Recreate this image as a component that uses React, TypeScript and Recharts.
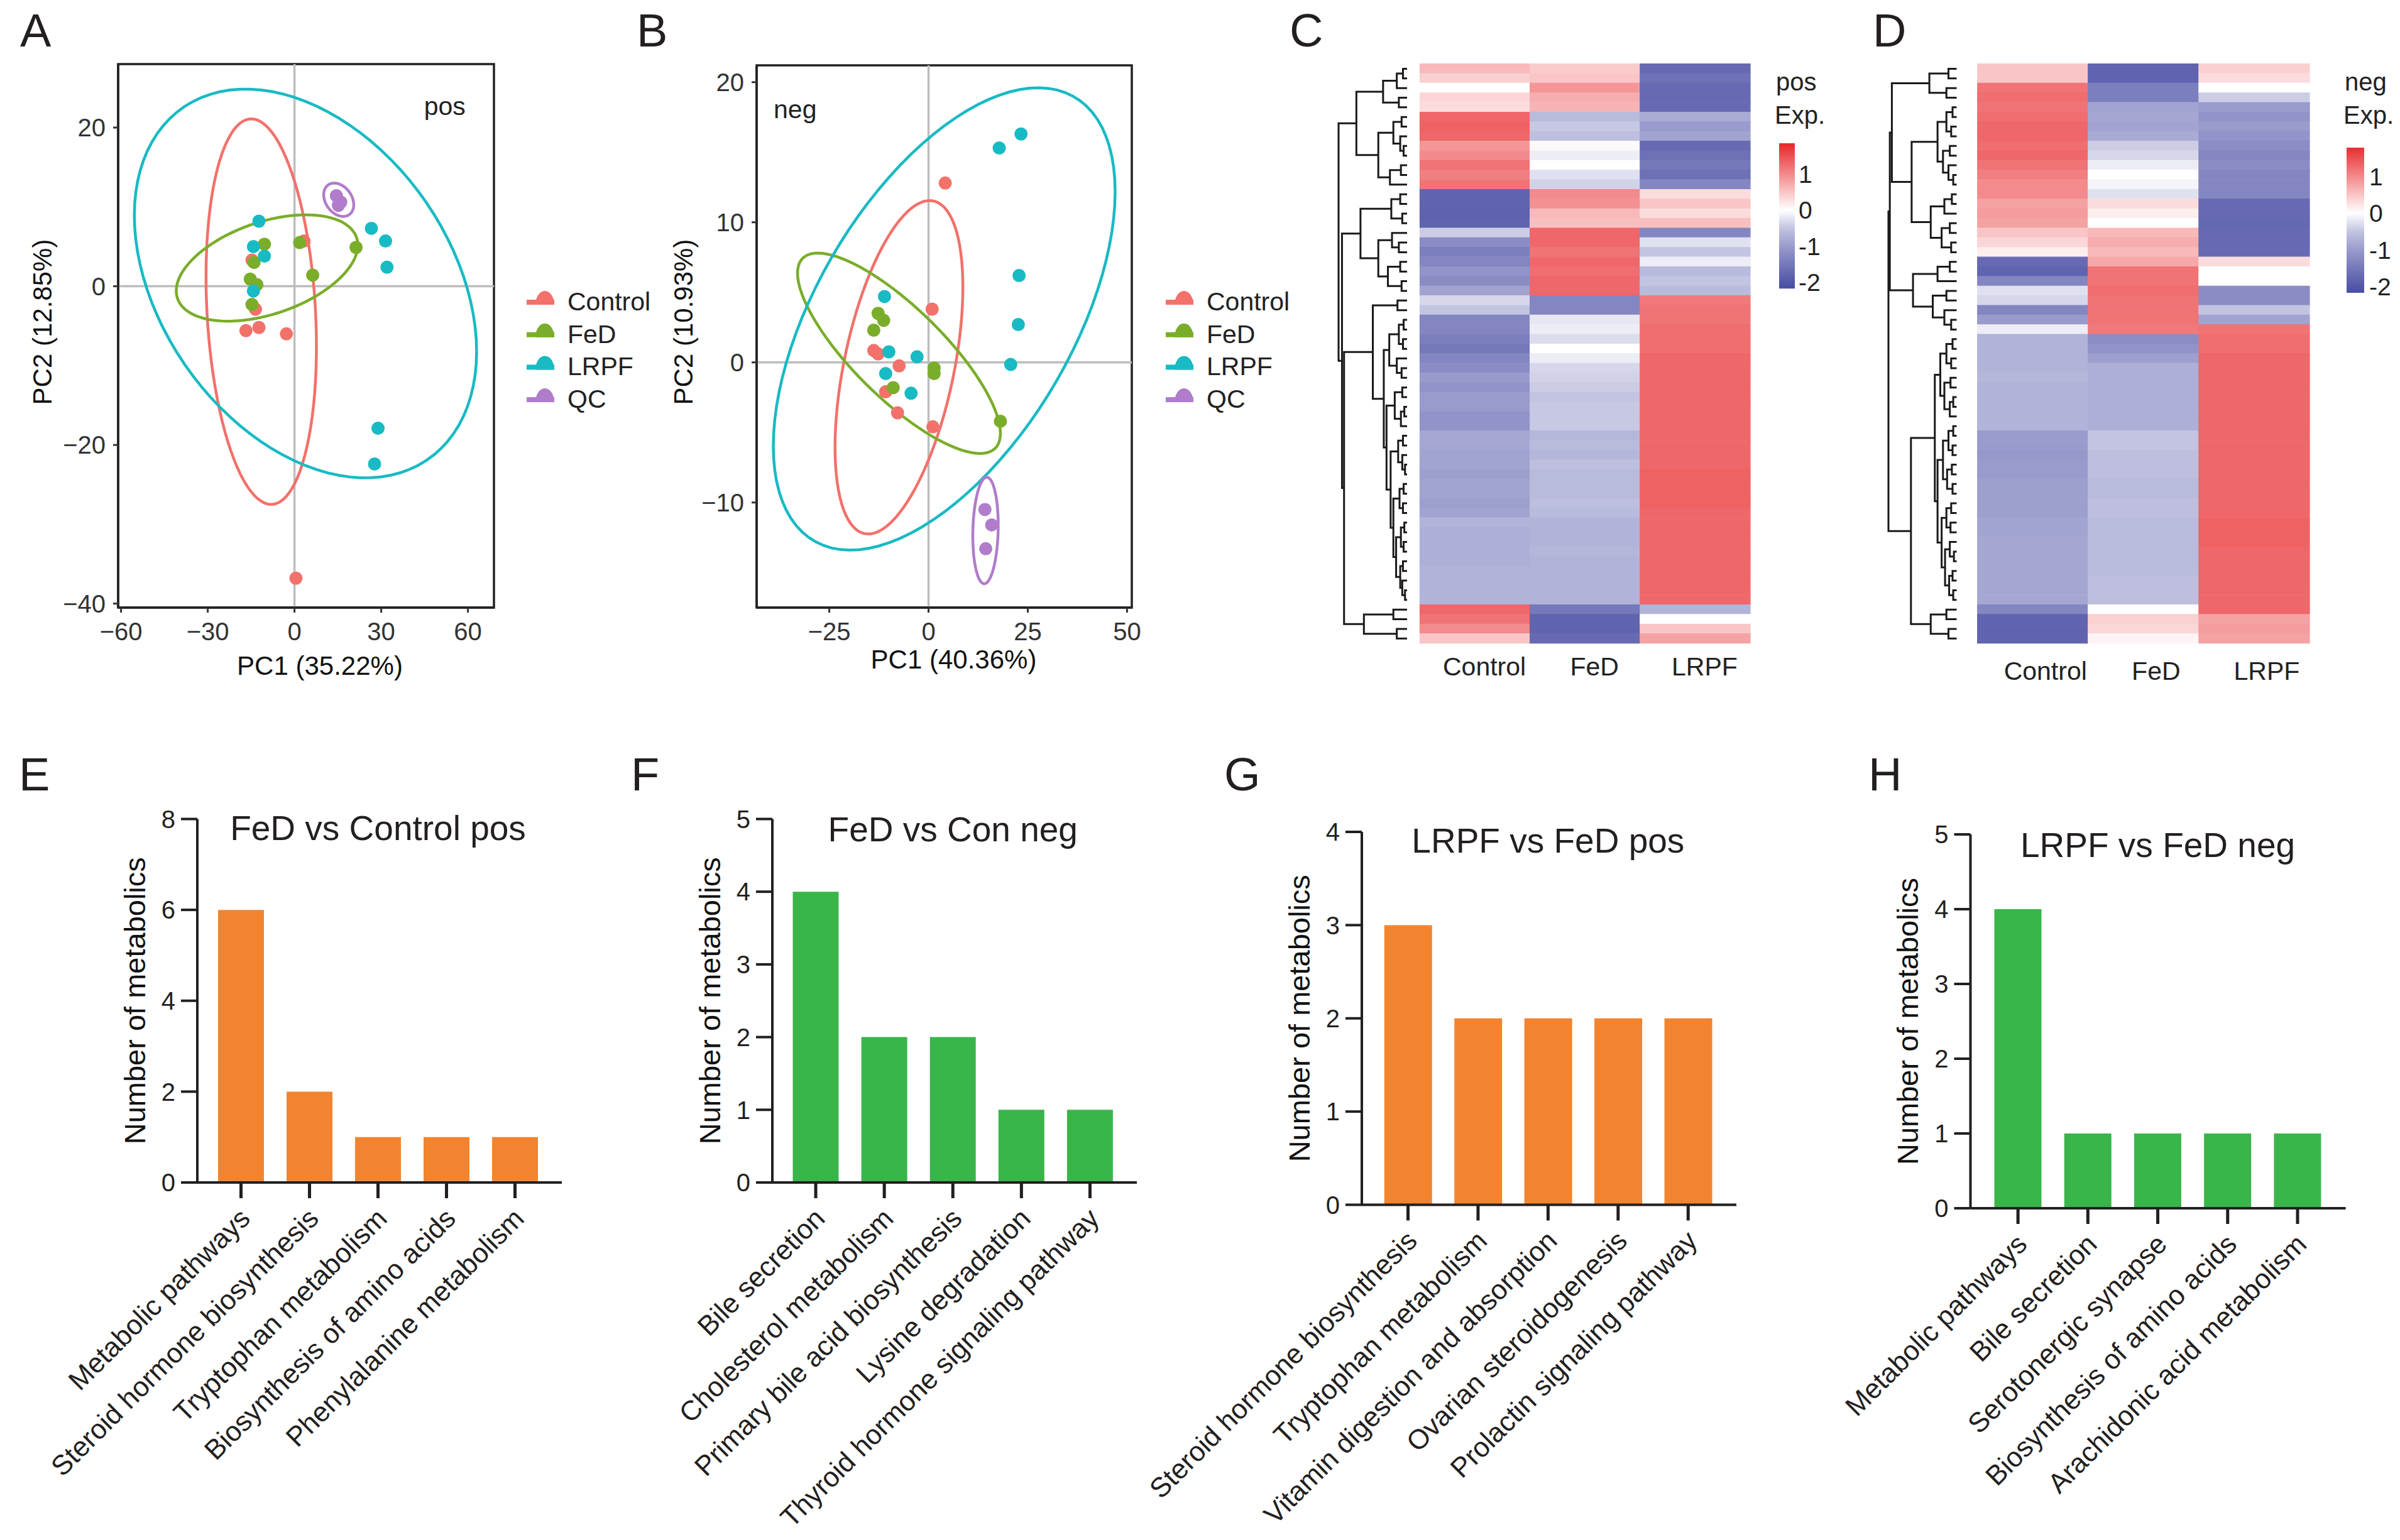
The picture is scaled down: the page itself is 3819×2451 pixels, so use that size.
import React from 'react';
import {
  ScatterChart, Scatter, XAxis, YAxis, ReferenceLine, ReferenceArea, ReferenceDot, Legend,
  BarChart, Bar, Cell, LineChart, Line,
} from 'recharts';

const FONT = '"Liberation Sans", Arial, Helvetica, sans-serif';
const INK = '#231f20';

// ---------------- PCA score plots (A: pos, B: neg) ----------------
const groupNames = ['Control', 'FeD', 'LRPF', 'QC'];
const groupColors = ['#F2716B', '#7AAD2A', '#18BAC3', '#B07CCB'];

const posControl = [[3.3, 5.7], [-14.7, 3.3], [-13.5, -2.9], [-16.8, -5.6], [-12.3, -5.2], [-2.8, -6.0], [0.5, -36.8]];
const posFeD = [[-10.4, 5.3], [1.8, 5.5], [21.3, 4.9], [6.3, 1.4], [-15.3, 0.9], [-13.0, 0.2], [-14.7, -2.3], [-14.0, 3.0]];
const posLRPF = [[-12.3, 8.2], [-14.2, 5.0], [-10.4, 3.8], [-14.2, -0.6], [26.6, 7.3], [31.5, 5.7], [32.0, 2.4], [28.9, -17.9], [27.7, -22.4]];
const posQC = [[14.5, 11.4], [16.0, 10.6], [15.2, 10.2]];

const negControl = [[4.2, 12.8], [0.9, 3.8], [-13.8, 0.85], [-12.7, 0.6], [-7.4, -0.25], [-10.8, -2.1], [-7.8, -3.6], [1.1, -4.6]];
const negFeD = [[-12.7, 3.5], [-11.3, 3.0], [-13.8, 2.3], [1.4, -0.4], [1.4, -0.8], [-8.9, -1.8], [18.1, -4.2]];
const negLRPF = [[-11.1, 4.7], [-10.0, 0.75], [-2.9, 0.4], [-10.8, -0.8], [-4.4, -2.2], [17.8, 15.3], [23.3, 16.3], [22.8, 6.2], [22.6, 2.7], [20.7, -0.15]];
const negQC = [[14.2, -10.5], [15.9, -11.6], [14.4, -13.3]];

// confidence ellipses: [centre x, centre y, half-width, half-height, y-offset of rightmost point / half-height]
const posEllipses = [[-11.5, -3.2, 19.1, 24.3, -0.18], [-9.5, 2.3, 31.4, 6.7, 0.43], [3.8, 0.35, 59.2, 24.5, -0.35], [15.3, 10.9, 5.2, 2.1, -0.3]];
const negEllipses = [[-7.45, -0.35, 16.1, 11.9, 0.48], [-7.45, 0.65, 25.55, 7.15, -0.8], [3.95, 3.1, 43.05, 16.5, 0.55], [14.35, -12.0, 3.2, 3.8, 0.1]];

const posXTicks = [-60, -30, 0, 30, 60];
const posYTicks = [-40, -20, 0, 20];
const negXTicks = [-25, 0, 25, 50];
const negYTicks = [-10, 0, 10, 20];

// ---------------- Heatmaps (C: pos, D: neg) ----------------
const heatCols = ['Control', 'FeD', 'LRPF'];

const posHeatControl = [0.6, 0.4, 0.0, 0.35, 0.3, 1.3, 1.35, 1.3, 0.9, 1.0, 1.2, 1.1, 1.2, -1.8, -1.8, -1.85, -1.8, -0.4, -1.2, -1.4,
  -1.3, -1.1, -1.2, -0.9, -0.3, -0.5, -1.3, -1.3, -1.4, -1.5, -1.3, -1.2, -1.0, -1.1, -1.0, -1.0, -1.1, -1.1, -0.85, -0.85,
  -0.9, -0.9, -0.95, -0.9, -0.9, -0.95, -0.9, -0.7, -0.75, -0.75, -0.75, -0.75, -0.7, -0.7, -0.7, -0.7, 1.3, 1.2, 1.0, 0.5];
const posHeatFeD = [0.45, 0.5, 0.9, 0.7, 0.65, -0.6, -0.45, -0.55, 0.05, -0.1, 0.0, -0.2, -0.35, 1.0, 0.95, 0.6, 0.55, 1.3, 1.3, 1.2,
  1.3, 1.25, 1.3, 1.3, -1.3, -1.3, -0.15, -0.1, -0.25, 0.0, -0.1, -0.3, -0.35, -0.4, -0.5, -0.45, -0.45, -0.45, -0.65, -0.6,
  -0.65, -0.55, -0.6, -0.6, -0.6, -0.55, -0.6, -0.7, -0.7, -0.7, -0.65, -0.7, -0.7, -0.7, -0.7, -0.7, -1.5, -1.8, -1.8, -1.7];
const posHeatLRPF = [-1.7, -1.6, -1.7, -1.7, -1.7, -0.8, -1.0, -0.9, -1.7, -1.6, -1.5, -1.6, -1.3, 0.3, 0.5, 0.3, 0.55, -1.3, -0.2, -0.5,
  -0.1, -0.6, -0.5, -0.6, 1.15, 1.2, 1.2, 1.25, 1.25, 1.25, 1.3, 1.3, 1.3, 1.3, 1.3, 1.3, 1.3, 1.3, 1.3, 1.3,
  1.3, 1.3, 1.35, 1.35, 1.35, 1.35, 1.3, 1.3, 1.3, 1.3, 1.3, 1.3, 1.3, 1.3, 1.3, 1.3, -0.7, 0.0, 0.5, 0.8];

const negHeatControl = [0.5, 0.5, 1.2, 1.25, 1.2, 1.25, 1.3, 1.3, 1.25, 1.3, 1.2, 1.1, 1.0, 1.0, 0.8, 0.85, 0.8, 0.5, 0.35, 0.15,
  -1.7, -1.8, -1.3, -0.2, -0.3, -1.3, -1.0, -0.1, -0.7, -0.7, -0.7, -0.7, -0.65, -0.7, -0.7, -0.7, -0.7, -0.7, -1.0, -1.0,
  -1.05, -1.0, -1.0, -0.95, -0.95, -0.95, -0.95, -0.9, -0.9, -0.85, -0.85, -0.85, -0.85, -0.85, -0.85, -0.85, -1.3, -1.8, -1.8, -1.8];
const negHeatFeD = [-1.8, -1.8, -1.4, -1.4, -0.9, -0.85, -0.9, -0.8, -0.4, -0.3, -0.1, 0.0, -0.05, -0.2, 0.3, 0.15, 0.0, 0.6, 0.7, 0.6,
  0.75, 1.2, 1.2, 1.25, 1.2, 1.2, 1.2, 1.15, -1.2, -1.1, -0.95, -0.75, -0.75, -0.75, -0.75, -0.75, -0.75, -0.75, -0.5, -0.5,
  -0.55, -0.55, -0.55, -0.6, -0.6, -0.55, -0.55, -0.6, -0.6, -0.6, -0.6, -0.6, -0.6, -0.55, -0.55, -0.55, 0.0, 0.4, 0.35, 0.1];
const negHeatLRPF = [0.4, 0.3, 0.0, -0.4, -1.0, -1.1, -1.0, -1.1, -1.2, -1.3, -1.2, -1.3, -1.3, -1.3, -1.7, -1.7, -1.75, -1.7, -1.7, -1.7,
  0.3, 0.0, 0.0, -1.2, -1.2, -0.5, -0.9, 1.2, 1.25, 1.25, 1.3, 1.3, 1.3, 1.3, 1.3, 1.3, 1.3, 1.3, 1.3, 1.3,
  1.3, 1.3, 1.3, 1.3, 1.3, 1.3, 1.3, 1.35, 1.35, 1.35, 1.3, 1.3, 1.3, 1.3, 1.3, 1.3, 1.3, 0.8, 0.85, 0.8];

// dendrograms: node = [merge height, left, right], leaf = row index
const posTree = [10,
  [7.4, [3.5, [1.5, [0.6, 0, 1], 2], [1.2, 3, 4]], [4.2, [2.0, [0.8, 5, 6], [1.0, 7, [0.5, 8, 9]]], [2.5, [0.9, 10, 11], 12]]],
  [9.5,
    [6.8, [2.3, [1.0, 13, 14], [0.7, 15, 16]], [4.2, [2.2, 17, [1.2, 18, 19]], [2.8, [1.0, 20, 21], [0.8, 22, 23]]]],
    [9.2,
      [5.0, [1.4, 24, 25],
        [3.4, [2.6, [1.2, [0.5, 26, 27], [0.6, 28, 29]], [1.5, 30, [0.8, 31, 32]]],
          [3.0, [1.8, [0.7, 33, 34], [0.9, [0.4, 35, 36], 37]],
            [2.4, [1.3, [0.6, 38, 39], [0.7, 40, [0.3, 41, 42]]],
              [2.0, [1.1, [0.5, 43, 44], [0.6, 45, 46]],
                [1.6, [0.9, [0.4, 47, 48], [0.5, 49, 50]], [1.0, [0.6, 51, 52], [0.7, 53, [0.3, 54, 55]]]]]]]]],
      [6.3, [2.0, 56, 57], [1.5, 58, 59]]]]];

const negTree = [10,
  [9.8,
    [9.5, [4.0, [1.2, 0, 1], [1.5, 2, 3]],
      [6.6, [2.8, [1.5, [0.6, 4, 5], [0.8, 6, 7]], [2.0, [1.0, 8, 9], [1.2, 10, [0.5, 11, 12]]]],
        [3.8, [1.8, [0.7, 13, 14], 15], [2.2, [1.0, 16, 17], [0.8, 18, 19]]]]],
    [6.4, [2.8, [1.0, 20, 21], 22], [3.5, [1.5, 23, 24], [1.8, 25, [0.8, 26, 27]]]]],
  [6.7,
    [3.2, [2.4, [1.5, [0.6, 28, 29], [0.8, 30, 31]], [1.8, [0.9, 32, 33], [1.0, [0.5, 34, 35], 36]]],
      [2.8, [2.0, [1.2, [0.5, 37, 38], [0.6, 39, 40]], [1.4, [0.7, 41, 42], [0.6, 43, 44]]],
        [2.2, [1.5, [0.8, 45, 46], [0.9, 47, 48]], [1.7, [1.0, 49, [0.4, 50, 51]], [1.1, [0.6, 52, 53], [0.5, 54, 55]]]]]],
    [3.8, [1.5, 56, 57], [1.2, 58, 59]]]];

// ---------------- KEGG pathway bars (E–H) ----------------
const catE = ['Metabolic pathways', 'Steroid hormone biosynthesis', 'Tryptophan metabolism', 'Biosynthesis of amino acids', 'Phenylalanine metabolism'];
const valE = [6, 2, 1, 1, 1];
const ticksE = [0, 2, 4, 6, 8];
const catF = ['Bile secretion', 'Cholesterol metabolism', 'Primary bile acid biosynthesis', 'Lysine degradation', 'Thyroid hormone signaling pathway'];
const valF = [4, 2, 2, 1, 1];
const ticksF = [0, 1, 2, 3, 4, 5];
const catG = ['Steroid hormone biosynthesis', 'Tryptophan metabolism', 'Vitamin digestion and absorption', 'Ovarian steroidogenesis', 'Prolactin signaling pathway'];
const valG = [3, 2, 2, 2, 2];
const ticksG = [0, 1, 2, 3, 4];
const catH = ['Metabolic pathways', 'Bile secretion', 'Serotonergic synapse', 'Biosynthesis of amino acids', 'Arachidonic acid metabolism'];
const valH = [4, 1, 1, 1, 1];
const ticksH = [0, 1, 2, 3, 4, 5];

const ORANGE = '#F2842F';
const GREEN = '#39B54A';

// ---------------- helpers ----------------
const minusFmt = (v: number) => (v < 0 ? '\u2212' + Math.abs(v) : String(v));
const toPts = (arr: number[][]) => arr.map(([x, y]) => ({ x, y }));

function ellipsePoints(e: number[]) {
  const [cx, cy, rx, ry, k] = e;
  const d = Math.acos(k);
  const pts: { x: number; y: number }[] = [];
  for (let i = 0; i <= 96; i++) {
    const t = (i / 96) * 2 * Math.PI;
    pts.push({ x: cx + rx * Math.cos(t), y: cy + ry * Math.cos(t - d) });
  }
  return pts;
}

function dendroPoints(tree: any) {
  const pts: { x: number; y: number | null }[] = [];
  const walk = (node: any): { y: number; h: number } => {
    if (typeof node === 'number') return { y: node + 0.5, h: 0 };
    const [h, l, r] = node;
    const a = walk(l);
    const b = walk(r);
    pts.push({ x: a.h, y: a.y }, { x: h, y: a.y }, { x: h, y: b.y }, { x: b.h, y: b.y }, { x: b.h, y: null });
    return { y: (a.y + b.y) / 2, h };
  };
  walk(tree);
  return pts;
}

const RED = [232, 38, 42];
const BLUE = [72, 76, 163];
const HEAT_MAX = 1.86;
const HEAT_MIN = -2.18;
function heatColor(v: number) {
  const t = v >= 0 ? Math.min(v / HEAT_MAX, 1) : Math.pow(Math.min(-v / -HEAT_MIN, 1), 0.75);
  const c = v >= 0 ? RED : BLUE;
  const m = (a: number) => Math.round(255 + (a - 255) * t);
  return `rgb(${m(c[0])},${m(c[1])},${m(c[2])})`;
}

function xTitle(text: string, dx: number, dy: number, fontSize: number) {
  return {
    content: (props: any) => {
      const vb = props.viewBox || { x: 0, y: 0, width: 0, height: 0 };
      const cx = vb.x + vb.width / 2 + dx;
      const cy = vb.y + dy;
      return (
        <text x={cx} y={cy} textAnchor="middle" dominantBaseline="central" fontSize={fontSize} fill="#111" fontFamily={FONT}>
          {text}
        </text>
      );
    },
  };
}

function yTitle(text: string, dx: number, dy: number, fontSize: number) {
  return {
    content: (props: any) => {
      const vb = props.viewBox || { x: 0, y: 0, width: 0, height: 0 };
      const cx = vb.x + vb.width + dx;
      const cy = vb.y + vb.height / 2 + dy;
      return (
        <text x={cx} y={cy} transform={`rotate(-90 ${cx} ${cy})`} textAnchor="middle" dominantBaseline="central"
          fontSize={fontSize} fill="#111" fontFamily={FONT}>
          {text}
        </text>
      );
    },
  };
}

// ---------------- PCA panel ----------------
function PcaPanel(p: any) {
  const groups = [p.control, p.fed, p.lrpf, p.qc];
  return (
    <ScatterChart width={1100} height={1100} margin={p.margin}>
      <XAxis type="number" dataKey="x" domain={p.xDomain} ticks={p.xTicks} allowDataOverflow height={100}
        tickSize={8} tickMargin={16} tickFormatter={minusFmt}
        tick={{ fontSize: 40, fill: '#333', fontFamily: FONT }}
        axisLine={{ stroke: '#222', strokeWidth: 3.5 }} tickLine={{ stroke: '#333', strokeWidth: 3 }}
        label={xTitle(p.xTitle, p.xTitleDx, p.xTitleDy, 42)} />
      <YAxis type="number" dataKey="y" domain={p.yDomain} ticks={p.yTicks} allowDataOverflow width={120}
        tickSize={8} tickMargin={12} tickFormatter={minusFmt}
        tick={{ fontSize: 40, fill: '#333', fontFamily: FONT }}
        axisLine={{ stroke: '#222', strokeWidth: 3.5 }} tickLine={{ stroke: '#333', strokeWidth: 3 }}
        label={yTitle(p.yTitle, p.yTitleDx, p.yTitleDy, 42)} />
      <ReferenceLine x={0} stroke="#bdbdbd" strokeWidth={3.5} />
      <ReferenceLine y={0} stroke="#bdbdbd" strokeWidth={3.5} />
      {p.ellipses.map((e: number[], i: number) => (
        <Scatter key={'e' + i} data={ellipsePoints(e)} line={{ stroke: groupColors[i], strokeWidth: 4.5 }}
          shape={() => <g />} legendType="none" isAnimationActive={false} />
      ))}
      {groups.map((g: number[][], i: number) => (
        <Scatter key={'g' + i} name={groupNames[i]} data={toPts(g)} fill={groupColors[i]} isAnimationActive={false}
          shape={(sp: any) => <circle cx={sp.cx} cy={sp.cy} r={10.5} fill={groupColors[i]} />} />
      ))}
      <ReferenceArea x1={p.xDomain[0]} x2={p.xDomain[1]} y1={p.yDomain[0]} y2={p.yDomain[1]}
        fill="none" fillOpacity={0} stroke="#222" strokeWidth={3.5} ifOverflow="visible" />
      <ReferenceDot x={p.tagAt[0]} y={p.tagAt[1]} r={0} ifOverflow="visible"
        label={{ value: p.tag, position: 'center', fontSize: 41, fill: '#222', fontFamily: FONT }} />
      <Legend layout="vertical" align="center" verticalAlign="middle"
        wrapperStyle={{ left: p.legendLeft, top: 440, width: 260, height: 230 }}
        content={() => (
          <svg width={260} height={230}>
            {groupNames.map((n, i) => {
              const base = 45 + i * 51.7;
              return (
                <g key={n}>
                  <rect x={8} y={base - 8} width={44} height={8} fill={groupColors[i]} />
                  <path d={`M ${22} ${base} A 15 22 0 0 1 ${52} ${base} Z`} fill={groupColors[i]} />
                  <text x={73} y={base - 5} dominantBaseline="central" fontSize={41} fill="#222" fontFamily={FONT}>{n}</text>
                </g>
              );
            })}
          </svg>
        )} />
    </ScatterChart>
  );
}

// ---------------- heatmap pieces ----------------
function Dendrogram(p: any) {
  return (
    <LineChart width={p.width} height={1100} data={dendroPoints(p.tree)} margin={p.margin}>
      <XAxis type="number" dataKey="x" domain={[0, 10]} reversed hide />
      <YAxis type="number" domain={[0, 60]} reversed hide />
      <Line dataKey="y" stroke="#1a1a1a" strokeWidth={3} dot={false} isAnimationActive={false} connectNulls={false} />
    </LineChart>
  );
}

function Heatmap(p: any) {
  const data = p.ctrl.map((c: number, i: number) => ({ row: i, ctrl: c, fed: p.fed[i], lrpf: p.lrpf[i] }));
  const keys = ['ctrl', 'fed', 'lrpf'];
  const ColTick = (tp: any) => (
    <text x={tp.x + p.labelDx} y={tp.y} textAnchor="middle" dominantBaseline="hanging" fontSize={41} fill="#222" fontFamily={FONT}>
      {heatCols[Math.floor(tp.payload.value)]}
    </text>
  );
  return (
    <BarChart layout="vertical" width={600} height={1100} data={data} margin={p.margin} barCategoryGap={0} barGap={0}>
      <XAxis type="number" domain={[0, 3]} ticks={[0.5, 1.5, 2.5]} axisLine={false} tickLine={false}
        tickSize={0} tickMargin={p.labelMargin} height={60} tick={<ColTick />} />
      <YAxis type="category" dataKey="row" hide />
      {keys.map((k) => (
        <Bar key={k} dataKey={() => 1} stackId="cells" isAnimationActive={false}>
          {data.map((d: any, i: number) => (
            <Cell key={i} fill={heatColor(d[k])} stroke={heatColor(d[k])} strokeWidth={1.2} />
          ))}
        </Bar>
      ))}
    </BarChart>
  );
}

function ColorBar(p: any) {
  const lo = p.domain[0];
  const hi = p.domain[1];
  const stopsAt = [hi, 1.4, 1, 0.5, 0, -0.5, -1, -1.5, -2, lo];
  return (
    <BarChart width={p.width} height={520} data={[{ name: 'scale', v: [lo, hi] }]} margin={p.margin} barCategoryGap={0}>
      <defs>
        <linearGradient id={p.id} x1="0" y1="0" x2="0" y2="1">
          {stopsAt.map((v) => (
            <stop key={v} offset={(hi - v) / (hi - lo)} stopColor={heatColor(v)} />
          ))}
        </linearGradient>
      </defs>
      <XAxis dataKey="name" hide />
      <YAxis orientation="right" type="number" domain={p.domain} ticks={[-2, -1, 0, 1]} allowDataOverflow
        axisLine={false} tickLine={false} tickSize={0} tickMargin={p.tickMargin} width={p.axisWidth}
        tick={{ fontSize: 39, fill: '#222', fontFamily: FONT, textAnchor: 'start' }} />
      <Bar dataKey="v" fill={`url(#${p.id})`} isAnimationActive={false} />
      <Legend layout="vertical" align="center" verticalAlign="middle"
        wrapperStyle={{ left: p.legendLeft, top: 100, width: 130, height: 110 }}
        content={() => (
          <svg width={130} height={110}>
            <text x={6} y={30} dominantBaseline="central" fontSize={40} fill="#222" fontFamily={FONT}>{p.mode}</text>
            <text x={4} y={83} dominantBaseline="central" fontSize={40} fill="#222" fontFamily={FONT}>Exp.</text>
          </svg>
        )} />
    </BarChart>
  );
}

// ---------------- bar panel ----------------
const RotTick = (tp: any) => (
  <g transform={`translate(${tp.x + 17},${tp.y})`}>
    <text textAnchor="end" transform="rotate(-45)" fontSize={44} fill={INK} fontFamily={FONT}>
      {tp.payload.value}
    </text>
  </g>
);

function PathwayBars(p: any) {
  const data = p.categories.map((name: string, i: number) => ({ name, value: p.values[i] }));
  const H = 1301;
  return (
    <BarChart width={p.width} height={H} data={data}
      margin={{ top: p.plotTop, right: p.width - p.plotRight, bottom: H - p.plotBottom - 400, left: p.plotLeft - 120 }}>
      <XAxis dataKey="name" type="category" interval={0} height={400} padding={{ left: p.padL, right: p.padR }}
        tickSize={25} tickMargin={35} axisLine={{ stroke: INK, strokeWidth: 4 }} tickLine={{ stroke: INK, strokeWidth: 5 }}
        tick={<RotTick />} />
      <YAxis type="number" domain={[0, p.ticks[p.ticks.length - 1]]} ticks={p.ticks} width={120} allowDataOverflow
        tickSize={26} tickMargin={9} axisLine={{ stroke: INK, strokeWidth: 4 }} tickLine={{ stroke: INK, strokeWidth: 4 }}
        tick={{ fontSize: 40, fill: INK, fontFamily: FONT }}
        label={yTitle('Number of metabolics', -100, 0, 47)} />
      <Bar dataKey="value" fill={p.color} barSize={p.barSize} isAnimationActive={false} />
      <ReferenceDot x={p.categories[2]} y={p.titleAt} r={0} ifOverflow="visible"
        label={{ value: p.title, position: 'center', fontSize: 55, fill: INK, fontFamily: FONT }} />
    </BarChart>
  );
}

const letters = [
  ['A', 32, 74], ['B', 1013, 74], ['C', 2052, 74], ['D', 2980, 74],
  ['E', 30, 1258], ['F', 1004, 1258], ['G', 1948, 1258], ['H', 2973, 1258],
];

export default function App() {
  const abs = (left: number, top: number) => ({ position: 'absolute' as const, left, top });
  return (
    <div style={{ position: 'absolute', left: 0, top: 0, width: 3819, height: 2451, background: '#fff', overflow: 'hidden', fontFamily: FONT }}>
      <svg style={abs(0, 0)} width={3819} height={2451}>
        {letters.map(([t, x, y]) => (
          <text key={t as string} x={x as number} y={y as number} fontSize={74} fill={INK} fontFamily={FONT}>{t}</text>
        ))}
      </svg>

      <div style={abs(0, 0)}>
        <PcaPanel control={posControl} fed={posFeD} lrpf={posLRPF} qc={posQC} ellipses={posEllipses}
          margin={{ top: 102, right: 314, bottom: 33, left: 68 }}
          xDomain={[-61, 69]} yDomain={[-40.5, 28]} xTicks={posXTicks} yTicks={posYTicks}
          xTitle="PC1 (35.22%)" yTitle="PC2 (12.85%)" xTitleDx={22} xTitleDy={92} yTitleDx={-121} yTitleDy={-22}
          tag="pos" tagAt={[52, 22.7]} legendLeft={830} />
      </div>
      <div style={abs(950, 0)}>
        <PcaPanel control={negControl} fed={negFeD} lrpf={negLRPF} qc={negQC} ellipses={negEllipses}
          margin={{ top: 104, right: 249, bottom: 33, left: 134 }}
          xDomain={[-43.3, 51.2]} yDomain={[-17.5, 21.2]} xTicks={negXTicks} yTicks={negYTicks}
          xTitle="PC1 (40.36%)" yTitle="PC2 (10.93%)" xTitleDx={15} xTitleDy={82} yTitleDx={-117} yTitleDy={-23}
          tag="neg" tagAt={[-33.6, 18.1]} legendLeft={897} />
      </div>

      <div style={abs(2100, 0)}>
        <Dendrogram tree={posTree} width={160} margin={{ top: 101.7, right: 21, bottom: 76, left: 30 }} />
      </div>
      <div style={abs(2200, 0)}>
        <Heatmap ctrl={posHeatControl} fed={posHeatFeD} lrpf={posHeatLRPF}
          margin={{ top: 101.7, right: 15, bottom: 16, left: 59.5 }} labelDx={15} labelMargin={21} />
      </div>
      <div style={abs(2800, 0)}>
        <ColorBar id="gradPos" mode="pos" domain={[-2.18, 1.86]} width={160} axisWidth={60} tickMargin={6}
          margin={{ top: 228, right: 44, bottom: 60.5, left: 31 }} legendLeft={20} />
      </div>

      <div style={abs(2980, 0)}>
        <Dendrogram tree={negTree} width={150} margin={{ top: 101.7, right: 16.5, bottom: 76, left: 25 }} />
      </div>
      <div style={abs(3090, 0)}>
        <Heatmap ctrl={negHeatControl} fed={negHeatFeD} lrpf={negHeatLRPF}
          margin={{ top: 101.7, right: 15, bottom: 16, left: 56.7 }} labelDx={20} labelMargin={28} />
      </div>
      <div style={abs(3700, 0)}>
        <ColorBar id="gradNeg" mode="neg" domain={[-2.17, 1.79]} width={119} axisWidth={50} tickMargin={8}
          margin={{ top: 235, right: 7, bottom: 54, left: 34 }} legendLeft={25} />
      </div>

      <div style={abs(0, 1150)}>
        <PathwayBars categories={catE} values={valE} ticks={ticksE} color={ORANGE} title="FeD vs Control pos" titleAt={7.8}
          width={950} plotLeft={314} plotRight={894} plotTop={153.5} plotBottom={732} padL={15} padR={20} barSize={73} />
      </div>
      <div style={abs(950, 1150)}>
        <PathwayBars categories={catF} values={valF} ticks={ticksF} color={GREEN} title="FeD vs Con neg" titleAt={4.86}
          width={950} plotLeft={279} plotRight={859} plotTop={153.5} plotBottom={732} padL={14.5} padR={20} barSize={73} />
      </div>
      <div style={abs(1750, 1150)}>
        <PathwayBars categories={catG} values={valG} ticks={ticksG} color={ORANGE} title="LRPF vs FeD pos" titleAt={3.91}
          width={1100} plotLeft={417} plotRight={1013} plotTop={174} plotBottom={767.5} padL={17.75} padR={21} barSize={76} />
      </div>
      <div style={abs(2850, 1150)}>
        <PathwayBars categories={catH} values={valH} ticks={ticksH} color={GREEN} title="LRPF vs FeD neg" titleAt={4.86}
          width={969} plotLeft={285.5} plotRight={882.6} plotTop={178} plotBottom={773} padL={20} padR={21} barSize={75} />
      </div>
    </div>
  );
}
